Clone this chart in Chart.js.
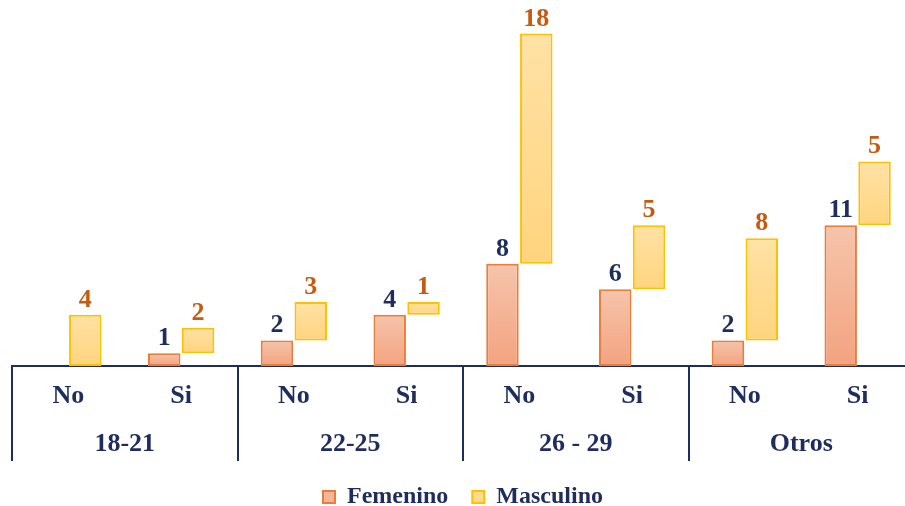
<!DOCTYPE html>
<html>
<head>
<meta charset="utf-8">
<script src="https://cdn.jsdelivr.net/npm/chart.js@4"></script>
<style>
  html, body { margin: 0; padding: 0; background: #ffffff; overflow: hidden; }
  #wrap { position: relative; width: 914px; height: 519px; }
</style>
</head>
<body>
<div id="wrap"><canvas id="chart"></canvas></div>
<script>
// Age groups and the No / Si answer inside each group
const groups = ['18-21', '22-25', '26 - 29', 'Otros'];
const answers = ['No', 'Si', 'No', 'Si', 'No', 'Si', 'No', 'Si'];
// Counts per answer slot
const femenino = [0, 1, 2, 4, 8, 6, 2, 11];
const masculino = [4, 2, 3, 1, 18, 5, 8, 5];

const NAVY = '#1F2D5E';
const RUST = '#C55A11';
const SERIF = '"Liberation Serif", "Times New Roman", serif';

// Vertical gradient spanning each bar from its own top to bottom
function barGradient(top, bottom) {
  return function (ctx) {
    const chart = ctx.chart;
    const y = chart.scales.y;
    if (!chart.chartArea || !y || ctx.raw == null) return bottom;
    const r = Array.isArray(ctx.raw) ? ctx.raw : [0, ctx.raw];
    const y0 = y.getPixelForValue(Math.max(r[0], r[1]));
    const y1 = y.getPixelForValue(Math.min(r[0], r[1]));
    if (!isFinite(y0) || !isFinite(y1) || y0 === y1) return bottom;
    const g = chart.ctx.createLinearGradient(0, y0, 0, y1);
    g.addColorStop(0, top);
    g.addColorStop(1, bottom);
    return g;
  };
}

// Value labels above every bar
const valueLabels = {
  id: 'valueLabels',
  afterDatasetsDraw(chart) {
    const ctx = chart.ctx;
    ctx.save();
    ctx.font = 'bold 26px ' + SERIF;
    ctx.textAlign = 'center';
    ctx.textBaseline = 'alphabetic';
    chart.data.datasets.forEach((ds, di) => {
      const meta = chart.getDatasetMeta(di);
      meta.data.forEach((el, i) => {
        const v = ds.labelValues[i];
        if (!v) return;
        const top = Math.min(el.y, el.base);
        ctx.fillStyle = ds.labelColor;
        ctx.fillText(String(v), el.x, top - 8);
      });
    });
    ctx.restore();
  }
};

// Frame lines separating the age groups under the axis
const groupDividers = {
  id: 'groupDividers',
  afterDraw(chart) {
    const x = chart.scales.x;
    const x2 = chart.scales.x2;
    const half = (x.getPixelForValue(1) - x.getPixelForValue(0)) / 2;
    const ctx = chart.ctx;
    ctx.save();
    ctx.strokeStyle = NAVY;
    ctx.lineWidth = 2;
    for (let k = 0; k <= groups.length; k++) {
      const px = Math.round(x.getPixelForValue(k * 2) - half);
      ctx.beginPath();
      ctx.moveTo(px, chart.chartArea.bottom);
      ctx.lineTo(px, x2.bottom);
      ctx.stroke();
    }
    ctx.restore();
  }
};

new Chart(document.getElementById('chart'), {
  type: 'bar',
  data: {
    labels: answers,
    datasets: [
      {
        label: 'Femenino',
        data: femenino.map(v => (v === 0 ? null : v)),
        labelValues: femenino,
        labelColor: NAVY,
        backgroundColor: barGradient('#F6C4AB', '#F3A380'),
        borderColor: '#EC7C3A',
        borderWidth: 2,
        borderSkipped: false,
        categoryPercentage: 0.6,
        barPercentage: 0.96
      },
      {
        label: 'Masculino',
        data: masculino.map((v, i) => [femenino[i], femenino[i] + v]),
        labelValues: masculino,
        labelColor: RUST,
        backgroundColor: barGradient('#FFE2A6', '#FFD47E'),
        borderColor: '#FFC000',
        borderWidth: 2,
        borderSkipped: false,
        categoryPercentage: 0.6,
        barPercentage: 0.96
      }
    ]
  },
  options: {
    responsive: true,
    maintainAspectRatio: false,
    animation: false,
    events: [],
    layout: { padding: { left: 12, right: 0, top: 8, bottom: 0 } },
    scales: {
      y: {
        display: false,
        min: 0,
        max: 28,
        grid: { display: false }
      },
      x: {
        type: 'category',
        offset: true,
        weight: 0,
        grid: { display: false, drawTicks: false },
        border: { display: true, color: NAVY, width: 2 },
        afterFit(scale) { scale.height = 46; },
        ticks: {
          color: NAVY,
          font: { family: SERIF, size: 26, weight: 'bold' },
          padding: 15,
          maxRotation: 0,
          autoSkip: false
        }
      },
      x2: {
        type: 'category',
        position: 'bottom',
        labels: groups,
        offset: true,
        weight: 1,
        grid: { display: false, drawTicks: false },
        border: { display: false },
        afterFit(scale) { scale.height = 49; },
        ticks: {
          color: NAVY,
          font: { family: SERIF, size: 26, weight: 'bold' },
          padding: 17,
          maxRotation: 0,
          autoSkip: false
        }
      }
    },
    plugins: {
      tooltip: { enabled: false },
      legend: {
        position: 'bottom',
        labels: {
          color: NAVY,
          font: { family: SERIF, size: 24, weight: 'bold' },
          boxWidth: 12,
          boxHeight: 12,
          padding: 24,
          generateLabels() {
            return [
              { text: 'Femenino', fillStyle: '#F5B597', strokeStyle: '#EC7C3A', lineWidth: 2, fontColor: NAVY, datasetIndex: 0 },
              { text: 'Masculino', fillStyle: '#FFDB92', strokeStyle: '#FFC000', lineWidth: 2, fontColor: NAVY, datasetIndex: 1 }
            ];
          }
        }
      }
    }
  },
  plugins: [valueLabels, groupDividers]
});
</script>
</body>
</html>
